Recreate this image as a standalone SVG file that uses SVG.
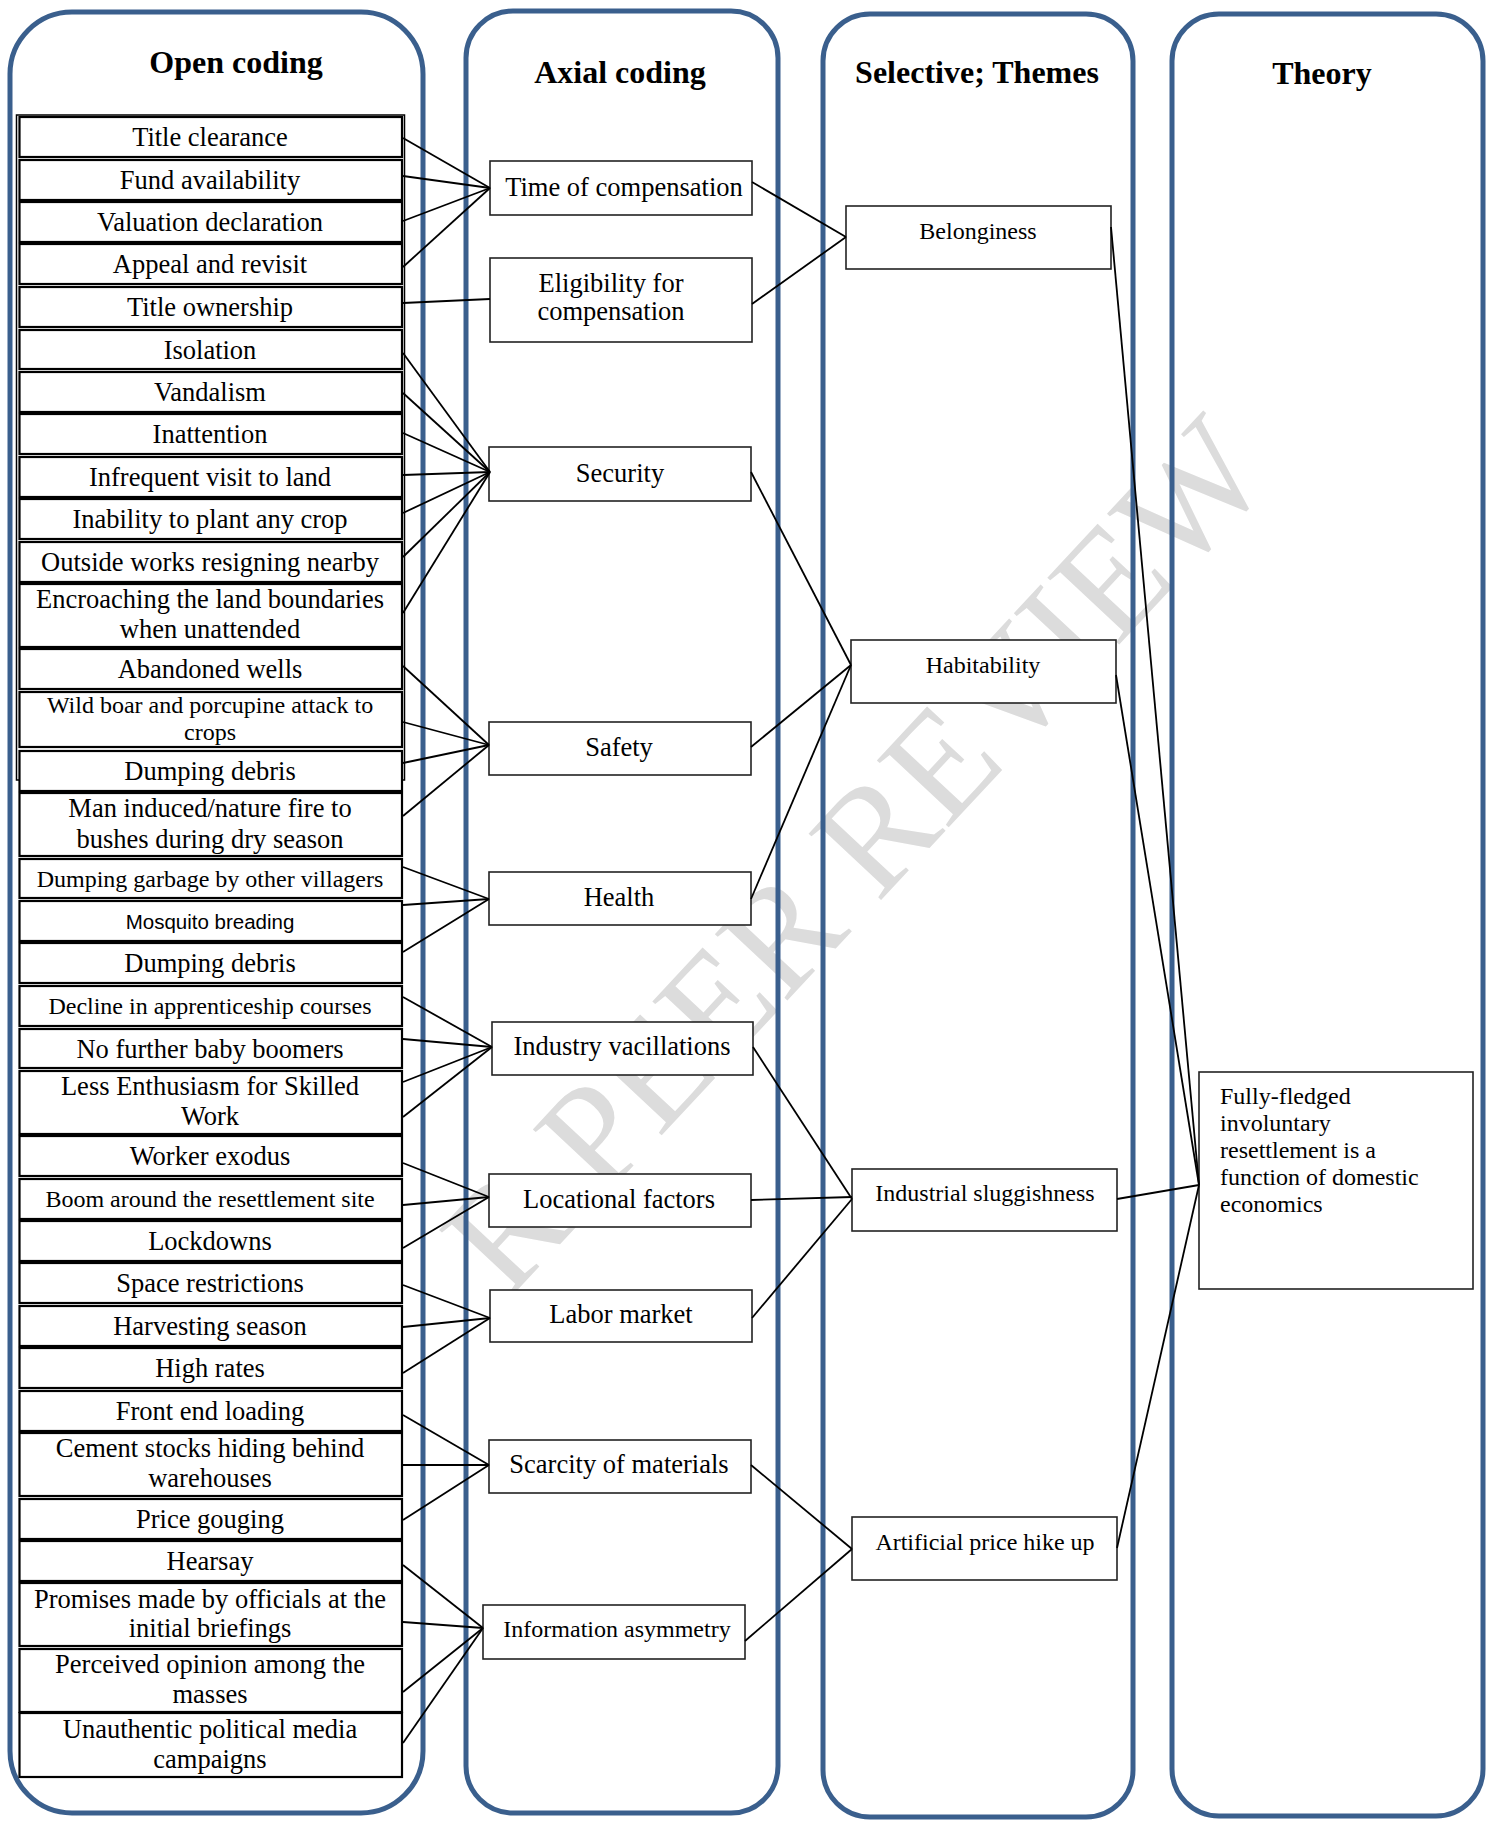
<svg xmlns="http://www.w3.org/2000/svg" width="1497" height="1821" viewBox="0 0 1497 1821">
<style>
.cont{fill:none;stroke:#3A5F8D;stroke-width:5}
.head{font-family:"Liberation Serif",serif;font-weight:bold;font-size:32px;fill:#000;text-anchor:middle}
.row{fill:#fff;stroke:#000;stroke-width:2.2}
.t{font-family:"Liberation Serif",serif;font-size:26.5px;fill:#000;text-anchor:middle}
.s{font-family:"Liberation Serif",serif;font-size:24px;fill:#000;text-anchor:middle}
.sans{font-family:"Liberation Sans",sans-serif;font-size:20.5px;fill:#000;text-anchor:middle}
.box{fill:#fff;stroke:#222;stroke-width:1.6}
.conn line{stroke:#000;stroke-width:1.8}
.wm{font-family:"Liberation Serif",serif;font-size:150px;fill:#dcdcdc}
</style>
<rect x="0" y="0" width="1497" height="1821" fill="#fff"/>
<g id="watermark"><text class="wm" x="508" y="1300" transform="rotate(-47 508 1300)">R PEER REVIEW</text></g>
<g id="containers">
<rect class="cont" x="10" y="12" width="413" height="1801" rx="62" ry="62"/>
<rect class="cont" x="466" y="11" width="312" height="1802" rx="47" ry="47"/>
<rect class="cont" x="823" y="14" width="310" height="1803" rx="47" ry="47"/>
<rect class="cont" x="1172" y="14" width="311" height="1802" rx="47" ry="47"/>
<text class="head" x="236" y="73">Open coding</text>
<text class="head" x="620" y="83">Axial coding</text>
<text class="head" x="977" y="83">Selective; Themes</text>
<text class="head" x="1322" y="84">Theory</text>
</g>
<g id="open-coding">
<rect x="16.5" y="115" width="388" height="665" fill="#fff" stroke="#000" stroke-width="1.5"/>
<g id="oc1"><rect class="row" x="19.5" y="117" width="382.5" height="40"/><text class="t" x="210" y="146">Title clearance</text></g>
<g id="oc2"><rect class="row" x="19.5" y="160" width="382.5" height="40"/><text class="t" x="210" y="189">Fund availability</text></g>
<g id="oc3"><rect class="row" x="19.5" y="202" width="382.5" height="40"/><text class="t" x="210" y="231">Valuation declaration</text></g>
<g id="oc4"><rect class="row" x="19.5" y="244" width="382.5" height="40"/><text class="t" x="210" y="273">Appeal and revisit</text></g>
<g id="oc5"><rect class="row" x="19.5" y="287" width="382.5" height="40"/><text class="t" x="210" y="316">Title ownership</text></g>
<g id="oc6"><rect class="row" x="19.5" y="330" width="382.5" height="39"/><text class="t" x="210" y="359">Isolation</text></g>
<g id="oc7"><rect class="row" x="19.5" y="372" width="382.5" height="40"/><text class="t" x="210" y="401">Vandalism</text></g>
<g id="oc8"><rect class="row" x="19.5" y="414" width="382.5" height="40"/><text class="t" x="210" y="443">Inattention</text></g>
<g id="oc9"><rect class="row" x="19.5" y="457" width="382.5" height="40"/><text class="t" x="210" y="486">Infrequent visit to land</text></g>
<g id="oc10"><rect class="row" x="19.5" y="499" width="382.5" height="40"/><text class="t" x="210" y="528">Inability to plant any crop</text></g>
<g id="oc11"><rect class="row" x="19.5" y="542" width="382.5" height="40"/><text class="t" x="210" y="571">Outside works resigning nearby</text></g>
<g id="oc12"><rect class="row" x="19.5" y="584" width="382.5" height="63"/><text class="t" x="210" y="608">Encroaching the land boundaries</text><text class="t" x="210" y="638">when unattended</text></g>
<g id="oc13"><rect class="row" x="19.5" y="649" width="382.5" height="40"/><text class="t" x="210" y="678">Abandoned wells</text></g>
<g id="oc14"><rect class="row" x="19.5" y="692" width="382.5" height="55"/><text class="s" x="210" y="713">Wild boar and porcupine attack to</text><text class="s" x="210" y="740">crops</text></g>
<g id="oc15"><rect class="row" x="19.5" y="751" width="382.5" height="40"/><text class="t" x="210" y="780">Dumping debris</text></g>
<g id="oc16"><rect class="row" x="19.5" y="793" width="382.5" height="63"/><text class="t" x="210" y="817">Man induced/nature fire to</text><text class="t" x="210" y="848">bushes during dry season</text></g>
<g id="oc17"><rect class="row" x="19.5" y="859" width="382.5" height="39"/><text class="s" x="210" y="887">Dumping garbage by other villagers</text></g>
<g id="oc18"><rect class="row" x="19.5" y="901" width="382.5" height="40"/><text class="sans" x="210" y="929">Mosquito breading</text></g>
<g id="oc19"><rect class="row" x="19.5" y="943" width="382.5" height="40"/><text class="t" x="210" y="972">Dumping debris</text></g>
<g id="oc20"><rect class="row" x="19.5" y="986" width="382.5" height="40"/><text class="s" x="210" y="1014">Decline in apprenticeship courses</text></g>
<g id="oc21"><rect class="row" x="19.5" y="1029" width="382.5" height="39"/><text class="t" x="210" y="1058">No further baby boomers</text></g>
<g id="oc22"><rect class="row" x="19.5" y="1071" width="382.5" height="63"/><text class="t" x="210" y="1095">Less Enthusiasm for Skilled</text><text class="t" x="210" y="1125">Work</text></g>
<g id="oc23"><rect class="row" x="19.5" y="1136" width="382.5" height="40"/><text class="t" x="210" y="1165">Worker exodus</text></g>
<g id="oc24"><rect class="row" x="19.5" y="1179" width="382.5" height="40"/><text class="s" x="210" y="1207">Boom around the resettlement site</text></g>
<g id="oc25"><rect class="row" x="19.5" y="1221" width="382.5" height="40"/><text class="t" x="210" y="1250">Lockdowns</text></g>
<g id="oc26"><rect class="row" x="19.5" y="1263" width="382.5" height="40"/><text class="t" x="210" y="1292">Space restrictions</text></g>
<g id="oc27"><rect class="row" x="19.5" y="1306" width="382.5" height="40"/><text class="t" x="210" y="1335">Harvesting season</text></g>
<g id="oc28"><rect class="row" x="19.5" y="1348" width="382.5" height="40"/><text class="t" x="210" y="1377">High rates</text></g>
<g id="oc29"><rect class="row" x="19.5" y="1391" width="382.5" height="40"/><text class="t" x="210" y="1420">Front end loading</text></g>
<g id="oc30"><rect class="row" x="19.5" y="1433" width="382.5" height="63"/><text class="t" x="210" y="1457">Cement stocks hiding behind</text><text class="t" x="210" y="1487">warehouses</text></g>
<g id="oc31"><rect class="row" x="19.5" y="1499" width="382.5" height="40"/><text class="t" x="210" y="1528">Price gouging</text></g>
<g id="oc32"><rect class="row" x="19.5" y="1541" width="382.5" height="40"/><text class="t" x="210" y="1570">Hearsay</text></g>
<g id="oc33"><rect class="row" x="19.5" y="1583" width="382.5" height="63"/><text class="t" x="210" y="1608">Promises made by officials at the</text><text class="t" x="210" y="1637">initial briefings</text></g>
<g id="oc34"><rect class="row" x="19.5" y="1649" width="382.5" height="63"/><text class="t" x="210" y="1673">Perceived opinion among the</text><text class="t" x="210" y="1703">masses</text></g>
<g id="oc35"><rect class="row" x="19.5" y="1713" width="382.5" height="64"/><text class="t" x="210" y="1738">Unauthentic political media</text><text class="t" x="210" y="1768">campaigns</text></g>
</g>
<g id="axial">
<g id="ax1"><rect class="box" x="490" y="161" width="262" height="54"/><text class="t" x="624" y="196">Time of compensation</text></g>
<g id="ax2"><rect class="box" x="490" y="258" width="262" height="84"/><text class="t" x="611" y="292">Eligibility for</text><text class="t" x="611" y="320">compensation</text></g>
<g id="ax3"><rect class="box" x="489" y="447" width="262" height="54"/><text class="t" x="620" y="482">Security</text></g>
<g id="ax4"><rect class="box" x="489" y="722" width="262" height="53"/><text class="t" x="619" y="756">Safety</text></g>
<g id="ax5"><rect class="box" x="489" y="872" width="262" height="53"/><text class="t" x="619" y="906">Health</text></g>
<g id="ax6"><rect class="box" x="492" y="1022" width="261" height="53"/><text class="t" x="622" y="1055">Industry vacillations</text></g>
<g id="ax7"><rect class="box" x="489" y="1174" width="262" height="53"/><text class="t" x="619" y="1208">Locational factors</text></g>
<g id="ax8"><rect class="box" x="490" y="1290" width="262" height="52"/><text class="t" x="621" y="1323">Labor market</text></g>
<g id="ax9"><rect class="box" x="489" y="1440" width="262" height="53"/><text class="t" x="619" y="1473">Scarcity of materials</text></g>
<g id="ax10"><rect class="box" x="483" y="1605" width="262" height="54"/><text class="s" x="617" y="1637">Information asymmetry</text></g>
</g>
<g id="selective">
<g id="se1"><rect class="box" x="846" y="206" width="265" height="63"/><text class="s" x="978" y="239">Belonginess</text></g>
<g id="se2"><rect class="box" x="851" y="640" width="265" height="63"/><text class="s" x="983" y="673">Habitability</text></g>
<g id="se3"><rect class="box" x="852" y="1169" width="265" height="62"/><text class="s" x="985" y="1201">Industrial sluggishness</text></g>
<g id="se4"><rect class="box" x="852" y="1517" width="265" height="63"/><text class="s" x="985" y="1550">Artificial price hike up</text></g>
</g>
<g id="theory">
<rect class="box" x="1199" y="1072" width="274" height="217"/>
<text font-family="Liberation Serif, serif" font-size="24" fill="#000"><tspan x="1220" y="1104">Fully-fledged</tspan><tspan x="1220" y="1131">involuntary</tspan><tspan x="1220" y="1158">resettlement is a</tspan><tspan x="1220" y="1185">function of domestic</tspan><tspan x="1220" y="1212">economics</tspan></text>
</g>
<g id="connectors" class="conn">
<line x1="403" y1="138" x2="490" y2="188"/>
<line x1="403" y1="176" x2="490" y2="188"/>
<line x1="403" y1="221" x2="490" y2="188"/>
<line x1="403" y1="267" x2="490" y2="188"/>
<line x1="403" y1="303" x2="490" y2="299"/>
<line x1="403" y1="353" x2="490" y2="472"/>
<line x1="403" y1="393" x2="490" y2="472"/>
<line x1="403" y1="433" x2="490" y2="472"/>
<line x1="403" y1="475" x2="490" y2="472"/>
<line x1="403" y1="513" x2="490" y2="472"/>
<line x1="403" y1="557" x2="490" y2="472"/>
<line x1="403" y1="613" x2="490" y2="472"/>
<line x1="403" y1="666" x2="489" y2="745"/>
<line x1="403" y1="722" x2="489" y2="745"/>
<line x1="403" y1="763" x2="489" y2="745"/>
<line x1="403" y1="816" x2="489" y2="745"/>
<line x1="403" y1="867" x2="489" y2="899"/>
<line x1="403" y1="905" x2="489" y2="899"/>
<line x1="403" y1="952" x2="489" y2="899"/>
<line x1="403" y1="997" x2="492" y2="1047"/>
<line x1="403" y1="1039" x2="492" y2="1047"/>
<line x1="403" y1="1082" x2="492" y2="1047"/>
<line x1="403" y1="1117" x2="492" y2="1047"/>
<line x1="403" y1="1163" x2="489" y2="1197"/>
<line x1="403" y1="1205" x2="489" y2="1197"/>
<line x1="403" y1="1248" x2="489" y2="1197"/>
<line x1="403" y1="1285" x2="490" y2="1318"/>
<line x1="403" y1="1327" x2="490" y2="1318"/>
<line x1="403" y1="1373" x2="490" y2="1318"/>
<line x1="403" y1="1415" x2="489" y2="1465"/>
<line x1="403" y1="1465" x2="489" y2="1465"/>
<line x1="403" y1="1520" x2="489" y2="1465"/>
<line x1="403" y1="1565" x2="483" y2="1628"/>
<line x1="403" y1="1622" x2="483" y2="1628"/>
<line x1="403" y1="1692" x2="483" y2="1628"/>
<line x1="403" y1="1743" x2="483" y2="1628"/>
<line x1="752" y1="182" x2="846" y2="237"/>
<line x1="752" y1="304" x2="846" y2="237"/>
<line x1="751" y1="472" x2="851" y2="665"/>
<line x1="751" y1="747" x2="851" y2="665"/>
<line x1="751" y1="899" x2="851" y2="665"/>
<line x1="753" y1="1047" x2="852" y2="1199"/>
<line x1="751" y1="1200" x2="852" y2="1197"/>
<line x1="752" y1="1318" x2="852" y2="1199"/>
<line x1="751" y1="1465" x2="852" y2="1549"/>
<line x1="745" y1="1641" x2="852" y2="1549"/>
<line x1="1111" y1="227" x2="1199" y2="1185"/>
<line x1="1116" y1="675" x2="1199" y2="1185"/>
<line x1="1117" y1="1199" x2="1199" y2="1185"/>
<line x1="1117" y1="1548" x2="1199" y2="1185"/>
</g>
</svg>
